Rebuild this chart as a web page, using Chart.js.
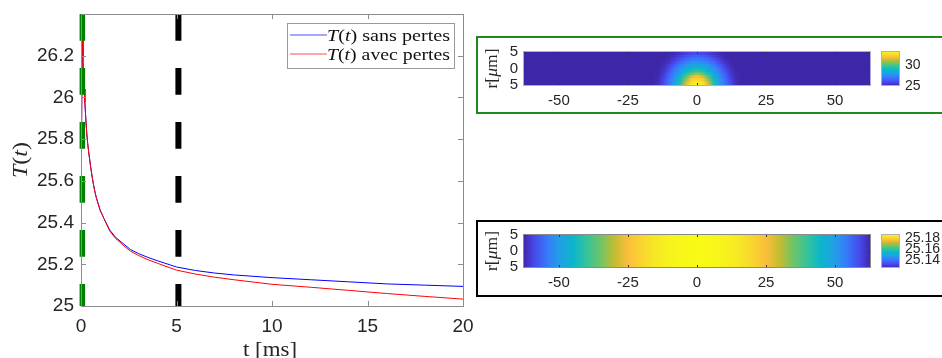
<!DOCTYPE html>
<html><head><meta charset="utf-8">
<script src="https://cdn.jsdelivr.net/npm/chart.js@4.4.1/dist/chart.umd.min.js"></script>
<style>
html,body{margin:0;padding:0;background:#fff;width:942px;height:358px;overflow:hidden;position:relative}
canvas{position:absolute}
.panel{position:absolute;box-sizing:border-box;border:2px solid}
</style></head><body>
<div class="panel" style="left:476px;top:36px;width:520px;height:78px;border-color:#1e8a1e"></div>
<div class="panel" style="left:476px;top:220px;width:520px;height:77px;border-color:#000"></div>
<canvas id="cT" width="490" height="368" style="left:0;top:-10px"></canvas>
<canvas id="cH0" width="398" height="79" style="left:478px;top:33px"></canvas>
<canvas id="cB0" width="70" height="79" style="left:872px;top:33px"></canvas>
<canvas id="cH1" width="398" height="79" style="left:478px;top:216px"></canvas>
<canvas id="cB1" width="70" height="79" style="left:872px;top:216px"></canvas>
<script>
// ================= DATA =================
const timeMs = [0, 0.06, 0.1, 0.12, 0.16, 0.2, 0.25, 0.3, 0.35, 0.4, 0.5, 0.6, 0.7, 0.8, 1.0, 1.2, 1.5, 1.8, 2.2, 2.6, 3.0, 3.5, 4.0, 5.0, 6.0, 7.0, 8.0, 10, 12, 14, 16, 18, 20];
const tempSansPertes = [25.43, 26.28, 26.20, 26.13, 26.04, 25.98, 25.90, 25.83, 25.78, 25.74, 25.67, 25.61, 25.56, 25.52, 25.46, 25.42, 25.365, 25.33, 25.30, 25.27, 25.252, 25.233, 25.217, 25.187, 25.170, 25.158, 25.149, 25.136, 25.126, 25.116, 25.106, 25.100, 25.094];
const tempAvecPertes = [25.43, 26.28, 26.20, 26.13, 26.04, 25.98, 25.90, 25.83, 25.78, 25.74, 25.67, 25.61, 25.56, 25.52, 25.46, 25.42, 25.36, 25.325, 25.292, 25.262, 25.243, 25.222, 25.205, 25.172, 25.153, 25.138, 25.126, 25.104, 25.090, 25.075, 25.060, 25.046, 25.033];
const seriesLabels = ['sans pertes', 'avec pertes'];
const seriesColors = ['#0000ff', '#ff0000'];
const markerTimes = [0.07, 5.1];           // green (t = 0) and black (t = 5 ms) snapshot markers
const timeRange = [0, 20];
const tempRange = [25, 26.4];
const timeTicks = [0, 5, 10, 15, 20];
const tempTicks = [25, 25.2, 25.4, 25.6, 25.8, 26, 26.2];
const tempTickLabels = ['25', '25.2', '25.4', '25.6', '25.8', '26', '26.2'];

// heat maps (z in µm along x, r in µm)
const zRange = [-63, 63];
const rRange = [-5.3, 5.3];
const zTicks = [-50, -25, 0, 25, 50];
const rTicks = [-5, 0, 5];
// snapshot t = 0 : columns (z) and rows (bottom row first)
const heat0Cols = [-63, -16, -14, -12, -10, -8, -6, -4, -2, 0, 2, 4, 6, 8, 10, 12, 14, 16, 63];
const heat0Rows = [
  [25, 25, 25.25, 26.0, 27.1, 28.1, 29.4, 31.6, 32.7, 32.95, 32.7, 31.6, 29.4, 28.1, 27.1, 26.0, 25.25, 25, 25],
  [25, 25, 25.25, 26.0, 27.0, 28.0, 29.2, 31.3, 32.5, 32.85, 32.5, 31.3, 29.2, 28.0, 27.0, 26.0, 25.25, 25, 25],
  [25, 25, 25.2, 25.9, 26.9, 27.9, 29.0, 30.7, 32.15, 32.45, 32.15, 30.7, 29.0, 27.9, 26.9, 25.9, 25.2, 25, 25],
  [25, 25, 25.15, 25.75, 26.7, 27.7, 28.6, 29.95, 31.4, 31.9, 31.4, 29.95, 28.6, 27.7, 26.7, 25.75, 25.15, 25, 25],
  [25, 25, 25.1, 25.6, 26.5, 27.45, 28.3, 29.3, 30.2, 30.8, 30.2, 29.3, 28.3, 27.45, 26.5, 25.6, 25.1, 25, 25],
  [25, 25, 25.05, 25.45, 26.2, 27.15, 27.9, 28.65, 29.3, 29.6, 29.3, 28.65, 27.9, 27.15, 26.2, 25.45, 25.05, 25, 25],
  [25, 25, 25.0, 25.3, 25.95, 26.8, 27.6, 28.15, 28.6, 28.8, 28.6, 28.15, 27.6, 26.8, 25.95, 25.3, 25.0, 25, 25],
  [25, 25, 25.0, 25.2, 25.7, 26.4, 27.1, 27.7, 28.0, 28.15, 28.0, 27.7, 27.1, 26.4, 25.7, 25.2, 25.0, 25, 25],
  [25, 25, 25.0, 25.1, 25.45, 26.0, 26.65, 27.2, 27.55, 27.65, 27.55, 27.2, 26.65, 26.0, 25.45, 25.1, 25.0, 25, 25],
  [25, 25, 25.0, 25.0, 25.25, 25.65, 26.15, 26.65, 27.0, 27.1, 27.0, 26.65, 26.15, 25.65, 25.25, 25.0, 25.0, 25, 25],
  [25, 25, 25.0, 25.0, 25.1, 25.35, 25.75, 26.15, 26.4, 26.5, 26.4, 26.15, 25.75, 25.35, 25.1, 25.0, 25.0, 25, 25],
  [25, 25, 25.0, 25.0, 25.0, 25.15, 25.4, 25.7, 25.9, 26.0, 25.9, 25.7, 25.4, 25.15, 25.0, 25.0, 25.0, 25, 25]
];
const heat0Range = [25, 33.2];
const heat0BarTicks = [25, 30];
const heat0BarLabels = ['25', '30'];
// snapshot t = 5 ms : uniform in r
const heat1Cols = [-63, -59, -54, -50, -45, -40, -35, -30, -25, -20, -15, -10, -5, 0, 5, 10, 15, 20, 25, 30, 35, 40, 45, 50, 54, 59, 63];
const heat1Rows = [
  [25.125, 25.132, 25.141, 25.147, 25.153, 25.160, 25.165, 25.171, 25.176, 25.180, 25.183, 25.185, 25.186, 25.187, 25.186, 25.185, 25.183, 25.180, 25.176, 25.171, 25.165, 25.160, 25.153, 25.147, 25.141, 25.132, 25.125]
];
const heat1Range = [25.125, 25.187];
const heat1BarTicks = [25.14, 25.16, 25.18];
const heat1BarLabels = ['25.14', '25.16', '25.18'];

// ================= STYLE HELPERS =================
Chart.defaults.font.family = '"Liberation Sans", Arial, sans-serif';
Chart.defaults.color = '#262626';
const SERIF = '"Liberation Serif", "Times New Roman", serif';
const parulaStops = [
  [0.000, 62, 38, 168], [0.079, 70, 60, 222], [0.143, 72, 82, 244], [0.222, 62, 111, 255],
  [0.286, 46, 135, 247], [0.365, 35, 160, 229], [0.444, 8, 181, 208], [0.508, 25, 190, 182],
  [0.571, 55, 196, 152], [0.635, 100, 197, 113], [0.698, 157, 192, 65], [0.762, 209, 188, 40],
  [0.810, 248, 186, 61], [0.841, 254, 195, 56], [0.905, 247, 220, 42], [0.952, 246, 239, 32],
  [1.000, 249, 251, 21]
];
function parula(n) {
  n = Math.max(0, Math.min(1, n));
  for (let i = 1; i < parulaStops.length; i++) {
    const a = parulaStops[i - 1], b = parulaStops[i];
    if (n <= b[0]) {
      const f = (n - a[0]) / (b[0] - a[0]);
      return 'rgb(' + [1, 2, 3].map(k => Math.round(a[k] + (b[k] - a[k]) * f)).join(',') + ')';
    }
  }
  const l = parulaStops[parulaStops.length - 1];
  return `rgb(${l[1]},${l[2]},${l[3]})`;
}
function drawRich(ctx, parts, size, targetW, align) {
  const font = it => `${it ? 'italic ' : ''}${size}px ${SERIF}`;
  let w = 0;
  parts.forEach(([t, it]) => { ctx.font = font(it); w += ctx.measureText(t).width; });
  const sx = targetW ? targetW / w : 1;
  ctx.save();
  ctx.scale(sx, 1);
  let cx = align === 'center' ? -w / 2 : 0;
  ctx.textBaseline = 'alphabetic'; ctx.textAlign = 'left';
  parts.forEach(([t, it]) => { ctx.font = font(it); ctx.fillText(t, cx, 0); cx += ctx.measureText(t).width; });
  ctx.restore();
}
const setTicks = arr => s => { s.ticks = arr.map(v => ({ value: v })); };
// nudge layout padding until the plot area sits where wanted
function fitArea(chart, want) {
  for (let k = 0; k < 3; k++) {
    const ca = chart.chartArea, p = chart.options.layout.padding;
    p.left += want.left - ca.left;
    p.top += want.top - ca.top;
    p.right += ca.right - want.right;
    p.bottom += ca.bottom - want.bottom;
    chart.update();
  }
}

// ================= LEFT: T(t) =================
const T_OFF = 10; // canvas is shifted 10 px above the page top
const frameColor = '#8c8c8c';
const tFrame = {
  id: 'tFrame',
  afterDraw(chart) {
    const { ctx, chartArea: ca } = chart;
    const xs = chart.scales.x, ys = chart.scales.y;
    ctx.save();
    ctx.strokeStyle = frameColor; ctx.lineWidth = 1;
    ctx.beginPath();
    xs.ticks.forEach(t => {
      const p = Math.round(xs.getPixelForValue(t.value)) + 0.5;
      ctx.moveTo(p, ca.bottom); ctx.lineTo(p, ca.bottom - 5);
      ctx.moveTo(p, ca.top); ctx.lineTo(p, ca.top + 5);
    });
    ys.ticks.forEach(t => {
      const p = Math.round(ys.getPixelForValue(t.value)) + 0.5;
      ctx.moveTo(ca.left, p); ctx.lineTo(ca.left + 5, p);
      ctx.moveTo(ca.right, p); ctx.lineTo(ca.right - 5, p);
    });
    ctx.stroke();
    ctx.strokeRect(Math.round(ca.left) + 0.5, Math.round(ca.top) + 0.5, Math.round(ca.right - ca.left), Math.round(ca.bottom - ca.top));
    // legend
    const lx = ca.right - 9 - 167, ly = ca.top + 9;
    ctx.fillStyle = '#fff';
    ctx.fillRect(lx, ly, 167, 45);
    ctx.strokeStyle = '#9a9a9a';
    ctx.strokeRect(lx + 0.5, ly + 0.5, 167, 45);
    [0, 1].forEach(i => {
      const yy = ly + 12 + i * 19;
      ctx.strokeStyle = seriesColors[i]; ctx.lineWidth = 1; ctx.globalAlpha = 0.7;
      ctx.beginPath(); ctx.moveTo(lx + 3, yy); ctx.lineTo(lx + 40, yy); ctx.stroke();
      ctx.globalAlpha = 1;
      ctx.fillStyle = '#111';
      ctx.save(); ctx.translate(lx + 40, yy + 5.5);
      drawRich(ctx, [['T', true], ['(', false], ['t', true], [') ' + seriesLabels[i], false]], 17, 123, 'left');
      ctx.restore();
    });
    // axis titles
    ctx.fillStyle = '#262626';
    ctx.save(); ctx.translate(27, (ca.top + ca.bottom) / 2); ctx.rotate(-Math.PI / 2);
    drawRich(ctx, [['T', true], ['(', false], ['t', true], [')', false]], 20, 36, 'center');
    ctx.restore();
    ctx.save(); ctx.translate((ca.left + ca.right) / 2 - 2, 355.5 + T_OFF);
    drawRich(ctx, [['t [ms]', false]], 20, 54, 'center');
    ctx.restore();
    ctx.restore();
  }
};
const chartT = new Chart(document.getElementById('cT'), {
  type: 'scatter',
  data: {
    datasets: [
      { label: seriesLabels[0], data: timeMs.map((t, i) => ({ x: t, y: tempSansPertes[i] })), showLine: true, borderColor: seriesColors[0], borderWidth: 1, pointRadius: 0, order: 3 },
      { label: seriesLabels[1], data: timeMs.map((t, i) => ({ x: t, y: tempAvecPertes[i] })), showLine: true, borderColor: seriesColors[1], borderWidth: 1, pointRadius: 0, order: 2 },
      { label: 't0', data: [{ x: markerTimes[0], y: tempRange[1] }, { x: markerTimes[0], y: tempRange[0] }], showLine: true, borderColor: '#008000', borderWidth: 5.5, borderDash: [26.7, 27.3], pointRadius: 0, order: 1, clip: false },
      { label: 't1', data: [{ x: markerTimes[1], y: tempRange[1] }, { x: markerTimes[1], y: tempRange[0] }], showLine: true, borderColor: '#000000', borderWidth: 6, borderDash: [26.7, 27.3], pointRadius: 0, order: 0, clip: false }
    ]
  },
  options: {
    responsive: false, animation: false, events: [],
    layout: { padding: { top: 24, right: 27, left: 0, bottom: 0 } },
    plugins: { legend: { display: false }, tooltip: { enabled: false } },
    scales: {
      x: {
        type: 'linear', min: timeRange[0], max: timeRange[1],
        afterBuildTicks: setTicks(timeTicks),
        grid: { display: false, drawTicks: false }, border: { display: false },
        ticks: { padding: 9, font: { size: 19 }, maxRotation: 0, autoSkip: false }
      },
      y: {
        type: 'linear', min: tempRange[0], max: tempRange[1],
        afterBuildTicks: setTicks(tempTicks),
        grid: { display: false, drawTicks: false }, border: { display: false },
        ticks: { padding: 7, font: { size: 19 }, autoSkip: false, callback: v => tempTickLabels[tempTicks.indexOf(v)] }
      }
    }
  },
  plugins: [tFrame]
});
fitArea(chartT, { left: 81, top: 14 + T_OFF, right: 463, bottom: 306 + T_OFF });

// ================= RIGHT: heat maps =================
function rowGradient(c, cols, rows, range) {
  const chart = c.chart, xs = chart.scales.x;
  const vals = rows[c.dataIndex];
  if (!xs || !vals || !chart.chartArea) return parula(0);
  const x0 = xs.getPixelForValue(cols[0]), x1 = xs.getPixelForValue(cols[cols.length - 1]);
  const g = chart.ctx.createLinearGradient(x0, 0, x1, 0);
  cols.forEach((u, i) => g.addColorStop((xs.getPixelForValue(u) - x0) / (x1 - x0), parula((vals[i] - range[0]) / (range[1] - range[0]))));
  return g;
}
function heatChart(id, cols, rows, range, borderCol, want) {
  const ch = new Chart(document.getElementById(id), {
    type: 'bar',
    data: {
      labels: rows.map((_, i) => 'r' + i),
      datasets: [{
        data: rows.map(() => [zRange[0], zRange[1]]),
        backgroundColor: c => rowGradient(c, cols, rows, range),
        borderWidth: 0, barPercentage: 1, categoryPercentage: 1, inflateAmount: 1,
        xAxisID: 'x', yAxisID: 'yRows'
      }]
    },
    options: {
      indexAxis: 'y', responsive: false, animation: false, events: [],
      layout: { padding: { top: 18, right: 5, left: 0, bottom: 0 } },
      plugins: { legend: { display: false }, tooltip: { enabled: false } },
      scales: {
        x: {
          type: 'linear', min: zRange[0], max: zRange[1], offset: false,
          afterBuildTicks: setTicks(zTicks),
          grid: { display: false, drawTicks: false }, border: { display: false },
          ticks: { padding: 6, font: { size: 15 }, maxRotation: 0, autoSkip: false }
        },
        yRows: { axis: 'y', type: 'category', reverse: true, display: false, offset: true },
        yAxis: {
          axis: 'y', type: 'linear', position: 'left', min: rRange[0], max: rRange[1], offset: false,
          afterBuildTicks: setTicks(rTicks),
          grid: { display: false, drawTicks: false, offset: false }, border: { display: false },
          ticks: { padding: 5, font: { size: 15 }, autoSkip: false, callback: v => String(Math.abs(v)) }
        }
      }
    },
    plugins: [{
      id: 'heatFrame',
      afterDraw(chart) {
        const { ctx, chartArea: ca } = chart;
        const xs = chart.scales.x, ys = chart.scales.yAxis;
        ctx.save();
        ctx.strokeStyle = '#333'; ctx.lineWidth = 1;
        ctx.beginPath();
        xs.ticks.forEach(t => {
          const p = Math.round(xs.getPixelForValue(t.value)) + 0.5;
          ctx.moveTo(p, ca.top); ctx.lineTo(p, ca.top + 3);
          ctx.moveTo(p, ca.bottom); ctx.lineTo(p, ca.bottom - 3);
        });
        ys.ticks.forEach(t => {
          const p = Math.round(ys.getPixelForValue(t.value)) + 0.5;
          ctx.moveTo(ca.left, p); ctx.lineTo(ca.left + 3, p);
          ctx.moveTo(ca.right, p); ctx.lineTo(ca.right - 3, p);
        });
        ctx.stroke();
        ctx.strokeStyle = borderCol;
        ctx.strokeRect(Math.round(ca.left) + 0.5, Math.round(ca.top) + 0.5, Math.round(ca.right - ca.left) - 1, Math.round(ca.bottom - ca.top) - 1);
        ctx.fillStyle = '#262626';
        ctx.save(); ctx.translate(19, (ca.top + ca.bottom) / 2); ctx.rotate(-Math.PI / 2);
        drawRich(ctx, [['r[', false], ['\u03bc', true], ['m]', false]], 17, 40, 'center');
        ctx.restore();
        ctx.restore();
      }
    }]
  });
  fitArea(ch, want);
}
function colorbarChart(id, range, ticks, labels, want) {
  const ch = new Chart(document.getElementById(id), {
    type: 'bar',
    data: {
      labels: ['cb'],
      datasets: [{
        data: [[range[0], range[1]]],
        backgroundColor: c => {
          const chart = c.chart, ys = chart.scales.y;
          if (!ys || !chart.chartArea) return parula(0);
          const g = chart.ctx.createLinearGradient(0, ys.getPixelForValue(range[0]), 0, ys.getPixelForValue(range[1]));
          parulaStops.forEach(s => g.addColorStop(s[0], `rgb(${s[1]},${s[2]},${s[3]})`));
          return g;
        },
        borderWidth: 0, barPercentage: 1, categoryPercentage: 1
      }]
    },
    options: {
      responsive: false, animation: false, events: [],
      layout: { padding: { top: 18, right: 0, left: 9, bottom: 26 } },
      plugins: { legend: { display: false }, tooltip: { enabled: false } },
      scales: {
        x: { display: false },
        y: {
          type: 'linear', position: 'right', min: range[0], max: range[1],
          afterBuildTicks: setTicks(ticks), afterFit: s => { s.width = 42; },
          grid: { display: false, drawTicks: false }, border: { display: false },
          ticks: { padding: 5, font: { size: 14 }, autoSkip: false, callback: v => labels[ticks.indexOf(v)] }
        }
      }
    },
    plugins: [{
      id: 'cbFrame',
      afterDraw(chart) {
        const { ctx, chartArea: ca } = chart;
        ctx.save();
        ctx.strokeStyle = '#b0b0b0'; ctx.lineWidth = 1;
        ctx.strokeRect(Math.round(ca.left) + 0.5, Math.round(ca.top) + 0.5, Math.round(ca.right - ca.left) - 1, Math.round(ca.bottom - ca.top) - 1);
        ctx.restore();
      }
    }]
  });
  fitArea(ch, want);
}
heatChart('cH0', heat0Cols, heat0Rows, heat0Range, '#aeaad6', { left: 45, top: 18, right: 393, bottom: 53 });
colorbarChart('cB0', heat0Range, heat0BarTicks, heat0BarLabels, { left: 9, top: 18, right: 28, bottom: 53 });
heatChart('cH1', heat1Cols, heat1Rows, heat1Range, '#8a8a8a', { left: 45, top: 18, right: 393, bottom: 52 });
colorbarChart('cB1', heat1Range, heat1BarTicks, heat1BarLabels, { left: 9, top: 18, right: 28, bottom: 52 });
</script>
</body></html>
